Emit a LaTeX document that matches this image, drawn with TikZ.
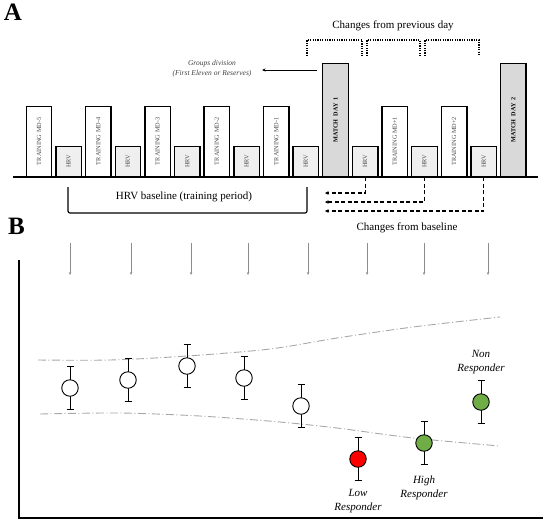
\documentclass[tikz,border=0pt]{standalone}
\usepackage{fontspec}
\setmainfont{Liberation Serif}
\usetikzlibrary{arrows.meta}
\definecolor{hrvfill}{HTML}{EFEFEF}
\definecolor{matchfill}{HTML}{D9D9D9}
\definecolor{dotgreen}{HTML}{70AD47}
\definecolor{curvegray}{HTML}{A8A8A8}
\tikzset{
  daybox/.style={draw, line width=1.4pt, rotate=90, anchor=west, inner sep=0pt, minimum width=#1, minimum height=25.5pt, text=black!70, font=\fontsize{6.3}{7}\selectfont},
  trainbox/.style={daybox=70pt, fill=white},
  hrvbox/.style={daybox=30pt, fill=hrvfill},
  matchbox/.style={daybox=113pt, fill=matchfill, text=black, font=\fontsize{6.2}{7}\selectfont\bfseries},
  dotbr/.style={line width=1.6pt, dash pattern=on 1.2pt off 1.2pt},
  dashedarrow/.style={dash pattern=on 4pt off 2.5pt, line width=1.1pt, -{Stealth[length=3.5pt,width=3.5pt]}},
  grayarrow/.style={draw=black!45, line width=0.6pt, -{Stealth[length=3pt,width=2.5pt]}},
  bigtext/.style={font=\fontsize{11}{13.5}\selectfont},
  resp/.style={font=\fontsize{11}{13.5}\selectfont\itshape, align=center},
  datapt/.style={circle, draw, line width=0.9pt, minimum size=16.5pt, inner sep=0pt},
  ebar/.style={line width=0.9pt},
  bandline/.style={curvegray, line width=0.9pt, dash pattern=on 8pt off 2.5pt on 1pt off 2.5pt},
  panel/.style={font=\fontsize{25}{25}\selectfont\bfseries}
}
\begin{document}
\begin{tikzpicture}[x=1pt,y=-1pt]
\useasboundingbox (0,0) rectangle (545,523);
% Panel A
\node[panel] (A) at (13,12) {A};
% boxes
\def\sp{29.65}
\node[trainbox] (t5) at (39,177) {TRAINING MD-5};
\node[hrvbox] (h1) at (39+\sp,177) {HRV};
\node[trainbox] (t4) at (39+2*\sp,177) {TRAINING MD-4};
\node[hrvbox] (h2) at (39+3*\sp,177) {HRV};
\node[trainbox] (t3) at (39+4*\sp,177) {TRAINING MD-3};
\node[hrvbox] (h3) at (39+5*\sp,177) {HRV};
\node[trainbox] (t2) at (39+6*\sp,177) {TRAINING MD-2};
\node[hrvbox] (h4) at (39+7*\sp,177) {HRV};
\node[trainbox] (t1) at (39+8*\sp,177) {TRAINING MD-1};
\node[hrvbox] (h5) at (39+9*\sp,177) {HRV};
\node[matchbox] (m1) at (39+10*\sp,177) {MATCH\ \ DAY\ \ 1};
\node[hrvbox] (h6) at (39+11*\sp,177) {HRV};
\node[trainbox] (p1) at (39+12*\sp,177) {TRAINING MD+1};
\node[hrvbox] (h7) at (39+13*\sp,177) {HRV};
\node[trainbox] (p2) at (39+14*\sp,177) {TRAINING MD+2};
\node[hrvbox] (h8) at (39+15*\sp,177) {HRV};
\node[matchbox] (m2) at (39+16*\sp,177) {MATCH\ \ DAY\ \ 2};
% time line
\coordinate (tl0) at (13,177);
\coordinate (tl1) at (538,177);
\draw[line width=2pt] (tl0) -- (tl1);
% groups division
\node[font=\fontsize{7.5}{9.5}\selectfont\itshape, align=center, text=black!75] (gd) at (212,68.5) {Groups division\\(First Eleven or Reserves)};
\coordinate (ga) at (317,70);
\draw[line width=0.6pt, -{Stealth[length=3.5pt,width=3pt]}] (ga) -- (262,70);
% changes from previous day
\node[bigtext] (cpd) at (393,26) {Changes from previous day};
\draw[dotbr] (307,56) -- (307,40) -- (362,40) -- (362,56);
\draw[dotbr] (367,56) -- (367,40) -- (420,40) -- (420,56);
\draw[dotbr] (425,56) -- (425,40) -- (479,40) -- (479,56);
% HRV baseline bracket
\node[bigtext] (hb) at (184,197) {HRV baseline (training period)};
\draw[line width=1.2pt, rounded corners=2pt] (68,187) -- (68,213) -- (307,213) -- (307,187);
% dashed arrows
\coordinate (d1) at (325,193);
\coordinate (d2) at (325,202);
\coordinate (d3) at (325,211);
\draw[dashedarrow] (h6.west) |- (d1);
\draw[dashedarrow] (h7.west) |- (d2);
\draw[dashedarrow] (h8.west) |- (d3);
% Panel B
\node[panel] (B) at (16.5,226) {B};
\coordinate (o) at (19,518);
\draw[line width=2pt] (19,260) -- (o) -- (543,518);
\node[bigtext] (cfb) at (407,228) {Changes from baseline};
\foreach \x/\n in {70/1,131/2,191/3,248/4,308/5,367/6,424/7,488/8}{
  \coordinate (ga\n) at (\x,243);
  \coordinate (gb\n) at (\x,275);
  \draw[grayarrow] (ga\n) -- (gb\n);
}
% bands
\draw[bandline] plot[smooth] coordinates {(38,360) (110,360) (187,356) (270,349) (337,338) (413,327) (500,317)};
\draw[bandline] plot[smooth] coordinates {(40,414) (120,413) (200,416) (280,422) (337,428) (413,438) (500,446)};
% data points
\foreach \x/\y/\c/\n in {70/388/white/1,128/380/white/2,187/366/white/3,244/378/white/4,301/406/white/5,358/459/red/6,424/443/dotgreen/7,481/402/dotgreen/8}{
  \coordinate (et\n) at (\x,\y-21.5);
  \coordinate (eb\n) at (\x,\y+21.5);
  \draw[ebar] (et\n) -- (eb\n);
  \draw[ebar] ([xshift=-3.5pt]et\n) -- ([xshift=3.5pt]et\n);
  \draw[ebar] ([xshift=-3.5pt]eb\n) -- ([xshift=3.5pt]eb\n);
  \node[datapt, fill=\c] (c\n) at (\x,\y) {};
}
\node[resp] (nr) at (481,362) {Non\\Responder};
\node[resp] (lr) at (358,501) {Low\\Responder};
\node[resp] (hr) at (424,488) {High\\Responder};
\end{tikzpicture}
\end{document}
